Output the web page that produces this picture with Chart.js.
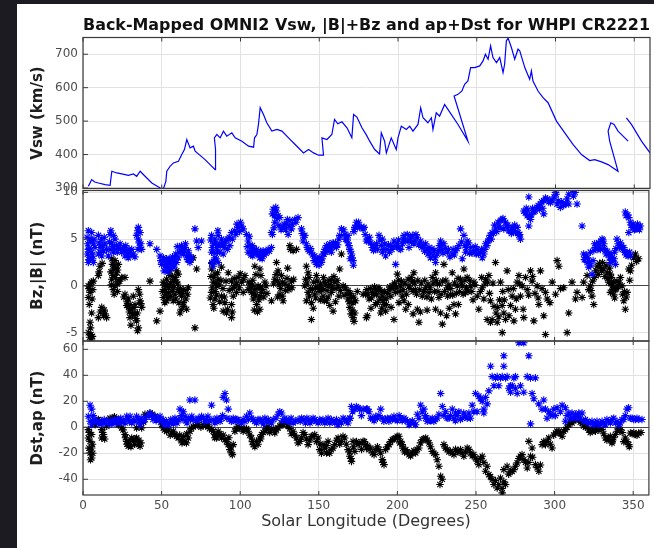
<!DOCTYPE html>
<html lang="en">
<head>
  <meta charset="UTF-8" />
  <title>Back-Mapped OMNI2 Vsw, |B|+Bz and ap+Dst for WHPI CR2221</title>
  <script src="https://cdn.jsdelivr.net/npm/chart.js"></script>
  <style>
    html, body { margin: 0; padding: 0; }
    body {
      width: 654px; height: 548px;
      position: relative; overflow: hidden;
      background: #1d1b22;
      font-family: 'DejaVu Sans', sans-serif;
    }
    .sheet { position: absolute; left: 17px; top: 4px; right: 0; bottom: 0; background: #fff; }
    canvas { position: absolute; left: 0; top: 0; }
  </style>
</head>
<body>
  <div class="sheet"></div>
  <canvas id="vswChart" width="654" height="548"></canvas>
  <canvas id="bChart" width="654" height="548"></canvas>
  <canvas id="dstChart" width="654" height="548"></canvas>

  <script>
    const chartTitle = 'Back-Mapped OMNI2 Vsw, |B|+Bz and ap+Dst for WHPI CR2221';

    // tick labels
    const lonTicks = [0, 50, 100, 150, 200, 250, 300, 350];
    const vswTicks = [300, 400, 500, 600, 700];
    const bTicks = [-5, 0, 5, 10];
    const dstTicks = [-40, -20, 0, 20, 40, 60];

    // solar wind speed, in the order it was plotted (back-mapping folds it back on itself)
    const vswLon = [3.4, 5.5, 7.5, 9.8, 14.0, 17.2, 18.3, 21.4, 24.6, 28.8, 32.0, 34.1, 36.3, 39.4, 43.7, 49.0, 51.1,
      52.6, 53.2, 55.3, 57.4, 60.6, 62.7, 64.4, 65.9, 68.0, 70.1, 71.2, 77.5, 83.9, 84.3, 84.0, 83.4, 85.0, 87.1,
      89.2, 91.3, 94.5, 96.6, 100.9, 105.1, 108.3, 108.9, 110.4, 111.4, 112.5, 114.6, 116.7, 119.9, 123.1, 126.3,
      130.5, 134.7, 140.0, 143.2, 146.4, 149.6, 152.7, 151.7, 154.9, 158.0, 159.7, 161.8, 164.4, 167.6, 170.7,
      171.8, 173.9, 177.1, 180.0, 182.0, 185.2, 188.3, 189.4, 191.5, 192.6, 195.7, 198.9, 200.0, 202.1, 205.3,
      207.4, 209.5, 212.7, 214.4, 215.9, 219.0, 221.2, 222.2, 224.3, 226.4, 229.6, 231.7, 238.1, 244.4, 235.6,
      238.1, 240.6, 242.3, 244.4, 246.1, 248.7, 251.9, 254.0, 255.5, 257.2, 258.8, 260.3, 262.5, 264.6, 266.7,
      267.7, 268.8, 269.9, 272.0, 274.1, 276.2, 277.3, 280.5, 283.6, 284.7, 285.7, 288.9, 292.1, 295.3, 300.6,
      305.9, 311.2, 316.5, 321.7, 324.9, 329.2, 333.4, 336.6, 339.7, 334.4, 333.4, 335.1, 337.2, 339.7, 342.9,
      346.1, 345.0, 345.0, 348.2, 354.6, 360.0];
    const vswVal = [305, 325, 318, 315, 310, 308, 350, 345, 342, 338, 342, 335, 350, 335, 315, 300, 298,
      320, 350, 365, 375, 380, 400, 415, 445, 420, 425, 410, 385, 355, 380, 415, 450, 460, 450,
      470, 455, 465, 450, 440, 425, 422, 450, 460, 490, 540, 520, 495, 470, 475, 470,
      450, 430, 405, 415, 405, 398, 398, 450, 445, 460, 505, 492, 498, 480, 450,
      520, 512, 480, 458, 440, 415, 402, 465, 440, 405, 450, 415, 450, 485, 475,
      485, 470, 490, 540, 510, 495, 510, 475, 525, 515, 550, 535, 490, 440, 575,
      580, 590, 610, 620, 660, 660, 665, 680, 700, 685, 725, 690, 675, 690, 645,
      670, 740, 748, 720, 685, 715, 710, 660, 625, 650, 620, 590, 570, 555, 500,
      465, 430, 400, 382, 385, 378, 370, 360, 350, 440, 470, 495, 490, 470, 455,
      440, null, 510, 490, 440, 405];

    // |B| (nT) [longitude, value]
    const bmagPts = [
      [3.4, 5.9], [5.5, 5.7], [4.5, 5.0], [3.0, 4.5], [6.6, 4.5], [3.4, 3.9], [5.5, 3.6], [7.7, 4.1], [4.5, 3.0], [6.6, 2.5], [3.4, 2.5],
      [2.6, 5.2], [4.0, 4.0], [6.0, 3.3], [2.8, 3.4], [7.0, 5.0], [5.0, 4.8], [6.2, 2.9], [3.8, 2.8],
      [9.8, 5.4], [11.9, 5.0], [10.8, 4.1], [13.0, 3.75], [9.8, 3.4], [14.0, 4.5], [11.9, 3.2],
      [10.3, 4.6], [12.5, 4.3], [13.5, 5.2], [11.0, 3.6], [15.0, 3.9],
      [17.2, 5.5], [19.3, 5.4], [18.3, 4.6], [20.4, 5.0], [21.4, 4.3], [17.2, 3.9], [19.3, 3.6], [16.1, 3.2],
      [16.8, 4.7], [18.8, 4.2], [20.0, 3.9], [21.8, 3.6], [17.7, 5.9], [22.3, 4.0],
      [23.6, 4.5], [25.7, 4.1], [27.8, 3.75], [29.9, 3.6], [32.0, 3.4], [26.7, 3.2], [24.6, 3.6], [31.0, 3.9], [28.8, 3.0],
      [24.0, 4.0], [26.0, 3.8], [28.0, 3.4], [30.5, 3.3], [33.0, 3.1], [27.2, 4.3], [29.2, 3.9],
      [35.2, 6.25], [36.3, 5.7], [34.1, 5.4], [35.2, 5.0], [36.3, 4.1], [37.3, 3.9], [42.6, 4.5], [46.9, 3.9],
      [34.8, 5.9], [35.8, 4.6], [36.8, 4.5], [35.0, 3.9],
      [49.0, 3.2], [51.1, 3.0], [53.2, 2.9], [50.0, 2.3], [52.1, 2.1], [54.3, 2.5], [56.4, 2.7], [58.5, 3.0], [57.4, 2.3],
      [55.3, 2.0], [53.2, 1.8], [59.6, 2.5], [60.6, 3.0],
      [49.5, 2.7], [50.8, 2.6], [52.6, 2.5], [53.8, 2.1], [54.8, 2.9], [55.8, 2.4], [56.9, 3.1], [58.0, 2.6], [51.6, 1.6],
      [54.0, 1.5], [56.0, 1.9], [57.8, 2.0], [59.0, 3.4], [61.2, 3.6], [60.0, 4.2],
      [62.7, 4.3], [64.9, 4.1], [63.8, 3.4], [65.9, 3.2], [68.0, 2.5], [69.1, 3.0], [67.0, 3.75],
      [63.2, 3.9], [64.4, 3.7], [66.5, 2.8], [68.5, 2.8], [67.6, 3.3], [65.2, 4.5], [62.2, 3.7],
      [71.2, 6.1], [72.3, 4.8], [75.4, 4.8], [73.3, 4.1],
      [81.8, 5.4], [83.9, 5.0], [86.0, 5.4], [82.8, 4.5], [85.0, 4.1], [81.8, 3.6], [83.9, 3.0], [86.0, 2.5], [82.8, 2.1], [88.1, 5.0], [87.1, 3.6],
      [81.2, 4.9], [82.3, 4.1], [83.3, 3.6], [84.4, 4.6], [85.5, 3.6], [86.5, 4.4], [83.0, 2.6], [84.8, 2.9], [82.0, 2.5], [87.6, 4.3], [85.8, 5.9],
      [90.3, 4.5], [92.4, 5.0], [94.5, 5.7], [96.6, 5.9], [98.7, 6.25], [100.9, 6.4], [101.9, 6.1], [93.4, 4.3], [89.2, 3.4],
      [89.8, 4.1], [91.0, 4.9], [93.0, 5.2], [95.0, 5.0], [97.2, 5.5], [99.5, 5.8], [91.8, 3.9], [88.6, 4.6], [97.9, 6.6], [100.2, 6.8],
      [105.1, 4.8], [106.1, 4.3], [107.2, 3.75], [109.3, 3.6], [111.4, 3.4], [113.6, 3.2], [114.6, 3.75], [115.7, 3.6],
      [117.8, 3.9], [119.9, 4.1], [112.5, 3.0], [110.4, 3.9], [105.1, 3.6],
      [104.5, 4.2], [105.8, 5.3], [106.8, 3.3], [108.0, 3.2], [108.7, 4.0], [110.9, 3.5], [112.0, 3.4], [113.0, 3.7],
      [114.0, 2.9], [115.2, 3.3], [116.5, 3.5], [118.5, 3.7], [107.7, 4.3], [104.0, 5.5],
      [121.0, 8.2], [123.1, 8.0], [124.1, 7.5], [122.0, 6.8], [119.9, 5.7], [125.2, 7.3],
      [120.5, 7.7], [121.8, 7.5], [122.6, 8.4], [123.6, 7.2], [124.6, 6.5], [126.0, 6.0], [128.0, 6.6], [129.0, 6.0],
      [130.0, 7.1], [131.0, 6.4], [133.2, 6.6], [135.5, 6.8], [121.5, 6.2], [120.5, 5.5],
      [127.3, 6.25], [129.4, 6.6], [131.6, 7.0], [132.6, 6.1], [130.5, 5.5], [134.7, 7.1], [136.8, 7.3],
      [139.0, 6.1], [141.1, 5.4], [140.0, 4.8], [142.1, 4.5], [143.2, 3.9],
      [145.3, 3.6], [147.4, 3.2], [149.6, 2.9], [151.7, 2.5], [150.6, 3.0], [152.7, 3.4], [153.8, 3.9], [148.5, 2.3],
      [154.9, 4.3], [157.0, 4.5], [159.1, 4.6], [161.2, 4.1], [163.3, 5.4], [164.4, 6.1], [158.0, 3.6],
      [139.5, 5.6], [140.5, 5.2], [142.7, 4.1], [144.0, 3.7], [144.8, 4.0], [146.0, 3.3], [147.0, 2.7], [148.0, 2.9],
      [149.0, 2.5], [150.2, 2.2], [151.2, 2.8], [152.2, 2.9], [153.3, 3.4], [154.3, 3.6], [155.5, 4.0], [156.3, 4.1],
      [157.6, 4.2], [158.6, 4.2], [159.8, 4.3], [160.7, 4.6], [162.0, 4.4], [162.8, 5.0], [156.5, 3.8],
      [166.5, 5.5], [168.6, 4.6], [169.7, 3.9], [170.8, 3.4], [171.8, 2.7], [172.9, 6.25], [173.9, 6.8], [176.0, 6.25],
      [178.2, 6.1], [180.3, 4.8], [168.6, 5.4],
      [165.9, 6.0], [167.0, 5.0], [167.9, 5.0], [169.2, 4.3], [170.2, 3.7], [171.2, 3.0], [172.3, 5.8], [173.3, 6.2],
      [174.5, 6.4], [175.3, 6.8], [177.0, 6.3], [179.5, 5.5], [170.0, 2.9], [172.0, 2.2],
      [178.8, 6.25], [180.9, 5.0], [183.0, 4.6], [185.1, 4.3], [188.3, 5.4], [190.4, 5.0], [187.2, 3.9], [190.4, 3.6],
      [192.5, 3.2], [195.7, 4.3], [197.8, 4.8], [200.0, 4.5], [202.1, 3.9], [198.9, 2.3],
      [204.2, 5.4], [206.3, 5.5], [209.5, 5.4], [212.7, 5.2], [214.8, 4.8], [210.5, 4.5], [207.4, 4.1],
      [218.0, 4.5], [220.1, 4.1], [223.3, 3.75], [225.4, 3.4], [221.1, 3.0], [224.3, 2.5],
      [227.5, 4.8], [229.6, 4.5], [228.6, 3.9], [231.7, 3.6], [234.9, 3.4], [237.0, 3.75], [239.1, 4.3],
      [240.2, 6.1], [242.3, 5.4], [244.4, 4.8], [243.4, 3.6], [241.3, 2.9], [246.6, 4.1], [248.7, 3.75], [250.8, 3.9],
      [252.9, 3.6], [255.0, 3.4], [254.0, 3.0],
      [181.5, 4.8], [182.3, 5.2], [184.0, 4.1], [184.8, 3.8], [186.0, 3.9], [186.8, 4.5], [188.8, 4.9], [189.8, 4.3],
      [191.3, 3.9], [192.0, 4.5], [193.4, 3.9], [194.3, 4.4], [195.0, 3.6], [196.5, 3.9], [197.2, 4.2], [199.4, 4.2],
      [200.8, 4.9], [201.3, 4.0], [203.2, 4.5], [203.8, 5.0], [205.0, 4.8], [206.8, 4.8], [208.2, 5.1], [209.0, 4.7],
      [211.3, 4.9], [211.8, 5.5], [213.5, 4.4], [215.5, 4.1], [216.5, 4.3], [217.3, 3.7], [218.8, 3.9], [219.5, 3.4],
      [220.7, 3.6], [222.0, 4.0], [222.6, 3.3], [224.0, 3.0], [226.0, 3.8], [226.8, 4.3], [228.0, 4.5], [229.0, 3.5],
      [230.5, 4.0], [232.5, 3.9], [233.4, 3.1], [235.5, 3.9], [236.2, 3.3], [238.0, 4.0], [240.8, 4.7], [243.0, 4.3],
      [244.0, 4.1], [245.3, 4.6], [245.8, 3.5], [247.5, 3.5], [249.5, 4.2], [250.2, 3.4], [251.5, 3.4], [253.5, 3.9],
      [256.1, 4.5], [258.2, 5.0], [260.3, 5.7], [262.4, 6.1], [264.5, 6.4], [266.7, 7.1], [268.8, 6.8], [267.7, 6.1],
      [270.9, 5.9], [273.0, 6.25], [275.1, 5.7], [277.3, 5.4], [276.2, 6.25], [278.3, 5.0],
      [255.6, 3.9], [257.0, 4.3], [257.8, 4.8], [259.0, 5.4], [259.7, 5.0], [261.0, 5.6], [261.8, 6.5], [263.2, 5.8],
      [264.0, 6.8], [265.3, 6.2], [265.8, 7.0], [267.2, 7.2], [269.5, 6.4], [270.2, 6.5], [271.8, 5.9], [272.5, 5.6],
      [274.0, 5.9], [274.6, 6.5], [276.8, 5.7], [277.8, 5.5],
      [280.4, 8.0], [282.6, 7.5], [284.7, 7.1], [283.6, 6.4], [286.8, 7.9], [288.9, 8.4], [291.0, 8.75], [293.1, 9.1],
      [295.3, 9.3], [293.1, 7.7], [297.4, 8.9], [301.6, 8.75], [303.7, 8.4], [305.8, 8.6], [309.0, 8.75], [314.3, 8.75],
      [300.6, 10.0], [311.1, 10.2], [309.0, 9.8], [283.6, 9.5],
      [281.4, 7.8], [282.0, 8.3], [283.0, 8.1], [284.0, 7.4], [285.3, 7.6], [286.0, 8.3], [287.6, 8.0], [289.6, 8.6],
      [290.5, 8.2], [291.8, 9.0], [292.5, 8.3], [294.2, 9.4], [296.3, 9.0], [298.4, 9.2], [299.7, 9.5], [301.0, 9.8],
      [302.3, 9.1], [304.5, 9.0], [307.0, 8.8], [308.0, 9.3], [312.0, 9.6], [313.0, 10.0],
      [317.5, 6.4], [318.5, 3.4], [319.6, 3.0], [320.7, 2.5], [321.7, 2.0], [323.8, 1.25], [322.8, 3.6], [326.0, 4.1],
      [328.1, 4.6], [330.2, 5.0], [331.3, 4.5], [329.1, 3.9], [332.3, 3.75], [334.4, 3.4], [336.6, 3.0], [335.5, 2.5], [338.7, 2.3],
      [319.0, 2.8], [320.2, 3.3], [321.0, 3.0], [322.2, 2.6], [323.0, 2.2], [324.5, 2.7], [325.0, 3.8], [325.5, 4.5],
      [326.8, 4.4], [327.5, 3.9], [328.6, 4.3], [329.6, 4.8], [330.8, 4.9], [331.8, 4.0], [332.8, 3.4], [333.6, 3.7],
      [334.9, 3.0], [336.0, 3.4], [337.0, 2.6], [337.9, 2.9], [338.2, 3.6], [339.0, 4.0], [340.4, 4.5], [341.2, 4.1],
      [342.5, 4.3], [343.2, 3.9], [344.6, 3.6], [345.5, 3.3], [346.8, 3.2], [347.7, 3.6],
      [339.7, 5.0], [341.9, 4.6], [344.0, 4.1], [346.1, 3.6], [348.2, 3.2], [345.0, 7.9], [347.2, 7.3], [348.2, 6.8],
      [349.3, 6.25], [351.4, 6.1], [353.5, 6.4], [347.2, 5.7], [354.6, 6.4],
      [345.5, 7.5], [346.5, 7.6], [348.8, 6.5], [350.0, 6.6], [350.8, 6.0], [352.2, 6.2], [352.8, 6.6], [354.0, 6.0]
    ];

    // Bz (nT) [longitude, value]
    const bzPts = [
      [3.4, 0], [5.5, 0.4], [4.5, -0.7], [3.4, -1.25], [5.5, -2.9], [4.5, -3.9], [5.1, -5.2], [6.0, -5.4], [3.4, -5.0], [6.6, 0.5],
      [3.8, -0.3], [5.0, 0.2], [6.2, -0.4], [4.0, -2.0], [5.8, -1.4], [4.8, -4.5], [5.4, -5.8], [4.2, -5.5],
      [10.8, 2.1], [9.8, 1.1], [11.9, -2.3], [13.0, -3.2], [9.8, -3.4], [14.0, -3.0],
      [10.2, 1.5], [12.2, 2.4], [11.0, -2.8], [13.5, -2.6], [15.0, -3.4],
      [18.3, 2.9], [20.4, 2.7], [22.5, 2.3], [19.3, 1.8], [21.4, 1.4], [18.3, 0.7], [20.4, 0], [22.5, 0.5], [19.3, -0.4],
      [18.8, 2.3], [19.8, 2.2], [21.0, 1.9], [22.0, 1.7], [17.8, 1.5], [19.0, 1.1], [20.6, 0.9], [21.8, 0.2], [23.3, 0.5],
      [18.0, 0.1], [19.8, -0.9], [22.0, -0.6],
      [24.6, 0.9], [26.7, 0.9], [26.7, -0.9], [28.8, -1.4], [27.8, -2.1], [31.0, -2.5], [33.1, -3.0], [29.9, -3.4],
      [34.1, -3.75], [35.2, -4.5], [36.3, -1.6], [32.0, -1.1], [35.2, -0.4], [33.1, -2.0], [37.3, -2.3],
      [26.0, -1.2], [28.0, -1.7], [29.0, -2.3], [30.0, -2.0], [31.5, -3.0], [32.5, -2.3], [33.6, -3.5], [34.6, -2.9],
      [30.5, -4.2], [29.5, -2.8], [34.7, -4.8], [36.0, -0.9], [36.8, -1.9],
      [42.6, 0.5], [46.9, -3.75], [49.0, -2.7],
      [51.1, 0.4], [53.2, 0.7], [55.3, 1.1], [57.4, 0.5], [59.6, 0.4], [60.6, 1.25], [52.1, -0.4], [54.3, -0.7], [56.4, 0],
      [58.5, -0.9], [51.1, -1.25], [53.2, -1.6], [57.4, -1.6], [60.6, -0.4], [62.7, -1.1], [64.9, -0.5], [67.0, -0.2],
      [63.8, -1.8], [61.7, -2.9], [65.9, -2.5], [59.6, 1.6], [70.1, 3.0], [72.3, 1.8], [71.2, -4.5],
      [50.5, -0.6], [51.6, 0.1], [52.6, -0.9], [53.6, 0.1], [54.6, -0.2], [55.8, 0.3], [56.8, -0.6], [57.9, -0.2],
      [58.9, 0.9], [60.1, 0.2], [61.2, -0.7], [62.0, -0.3], [63.0, -0.8], [63.8, -0.4], [65.5, -1.4], [66.5, -0.9],
      [52.0, -1.8], [54.0, -1.3], [55.8, -1.1], [59.0, -1.4], [61.0, -1.8], [64.0, -2.2], [62.5, -2.5], [57.0, 1.0], [55.0, 1.6],
      [81.8, 1.8], [83.9, 1.25], [82.8, 0.4], [85.0, 0], [81.8, -0.7], [83.9, -1.4], [82.8, -2.0], [86.0, 0.7], [88.1, -1.1],
      [90.3, -1.8], [91.3, -2.9], [89.2, -2.7], [94.5, -3.4], [88.1, 2.0],
      [92.4, 1.4], [94.5, 0.5], [96.6, 0], [98.7, 0.9], [100.9, 0.4], [103.0, 1.1], [95.6, -1.1], [94.5, -2.0], [101.9, -0.7], [97.7, -0.7],
      [81.3, 1.0], [82.0, 2.4], [83.2, 0.9], [84.5, 0.3], [85.6, 1.4], [82.2, -0.2], [84.2, -0.6], [81.0, -1.3], [83.2, -2.4],
      [85.0, -1.0], [87.0, -1.7], [86.6, 0.1], [87.8, 0.6], [89.0, -0.3], [90.0, -1.2], [91.0, 0.5], [93.0, -0.5], [95.0, -0.3],
      [96.2, 0.8], [97.8, 0.3], [99.4, -0.2], [100.0, 1.3], [102.2, 0.7], [92.0, -2.5], [95.0, -2.8],
      [105.1, -0.4], [107.2, -0.7], [109.3, -0.4], [111.4, 0], [113.6, -0.7], [108.3, -1.4], [110.4, -2.0], [112.5, -1.1],
      [106.1, 0.2], [115.7, 0.4], [112.5, 1.8], [109.3, 2.1], [112.5, -2.5],
      [105.6, 0.4], [106.7, -0.2], [107.8, 0.1], [108.8, -0.9], [109.8, -1.0], [110.8, -0.3], [111.9, -1.5], [113.0, -0.1],
      [114.2, -0.4], [115.0, -1.2], [116.4, 0.0], [108.0, 0.6], [110.0, 1.2], [113.2, 1.1], [117.0, -0.8], [109.0, -2.6], [111.0, -2.8],
      [119.9, -1.6], [123.1, 2.5], [124.1, 1.6], [122.0, 0.7], [126.3, 1.1], [128.4, 0.2], [125.2, -0.9], [127.3, -1.6],
      [130.5, 0], [132.6, 0.5], [131.6, 4.3], [133.7, 3.75], [135.8, 3.9],
      [121.2, 0.2], [122.8, 1.2], [123.8, 0.5], [124.8, 0.1], [125.8, -0.3], [127.0, 0.4], [128.8, -0.5], [129.8, 0.8],
      [131.0, -0.4], [133.0, -0.2], [134.0, 0.7], [132.0, 3.9], [130.2, 1.9], [126.8, -1.1], [123.8, -1.2],
      [142.1, 2.1], [143.2, 1.4], [141.1, 0], [143.2, -0.7], [142.1, -1.6], [145.3, -1.8], [145.3, -3.6],
      [148.5, 1.1], [149.6, -0.2], [147.4, -0.9], [151.7, -0.4], [153.8, 0.4], [155.9, 0], [158.0, 0.7], [160.2, 0.4],
      [152.7, -1.1], [154.9, -1.6], [157.0, -2.1], [159.1, -2.7], [163.3, 1.8], [164.4, 3.4], [162.3, 0], [165.5, 0], [158.0, -0.7],
      [141.6, 0.7], [142.6, 0.3], [143.8, 0.9], [144.6, -0.3], [146.0, -0.4], [146.8, 0.4], [148.0, -0.2], [149.0, 0.5],
      [150.2, -0.6], [151.0, 0.2], [152.2, -0.3], [153.0, 0.9], [154.3, 0.2], [155.2, -0.5], [156.5, 0.6], [157.3, 0.1],
      [158.6, -0.2], [159.6, 1.0], [161.0, -0.3], [161.7, 0.6], [162.8, -1.1], [156.0, -1.2], [153.5, -1.6], [151.0, -1.5],
      [148.0, -1.3], [144.0, -1.1], [146.5, -2.4], [160.6, -1.7], [163.8, -0.5], [166.0, -1.0],
      [168.6, -0.5], [170.8, -1.25], [171.8, -1.8], [169.7, -2.3], [172.9, -2.9], [171.8, -3.4], [168.6, -1.4],
      [167.0, -0.2], [168.0, -0.9], [169.2, -1.7], [170.2, -0.8], [171.3, -2.6], [172.2, -1.2], [173.4, -1.6], [170.5, -3.0],
      [172.4, -3.8], [174.5, -0.6], [178.2, -0.9], [180.3, -3.4],
      [179.8, -0.9], [182.0, -1.4], [180.9, -3.2], [184.1, -0.7], [186.2, -0.4], [188.3, -0.2], [187.2, -1.8], [190.4, -1.1],
      [191.5, -2.0], [192.5, -2.7], [189.4, -2.9], [194.7, -0.4], [196.8, 0], [198.9, -0.7], [197.8, -3.6],
      [180.5, -0.4], [181.3, -0.9], [183.0, -0.3], [183.5, -1.3], [185.0, -0.9], [185.5, -0.1], [186.8, -0.9], [187.8, -0.5],
      [188.9, -1.4], [189.8, -0.6], [190.9, -1.6], [191.9, -0.6], [192.9, -1.4], [193.8, -0.8], [195.2, -0.1], [195.8, -1.1],
      [197.2, -0.3], [198.2, 0.3], [199.5, -0.1], [196.0, -2.3], [193.0, -2.0], [190.0, -2.4], [186.0, -2.0], [183.2, -2.4],
      [200.0, 1.25], [202.1, 0], [203.1, -1.1], [204.2, -1.6], [201.0, -1.8], [205.3, -2.5], [207.4, 0], [209.5, 0.5],
      [210.5, 1.4], [211.6, -0.4], [212.7, -2.5], [213.7, -3.9], [215.8, -1.1], [218.0, -0.2], [220.1, -0.7],
      [222.2, 0.9], [224.3, 1.4], [225.4, 0.2], [226.4, -1.25], [227.5, -2.9], [224.3, -2.5], [228.6, -4.1], [229.6, 2.3],
      [231.7, -0.2], [233.8, -0.9], [236.0, -2.0], [237.0, -3.0], [234.9, 1.4], [238.1, 0], [240.2, 0.7], [242.3, 1.8],
      [243.4, -0.7], [241.3, 0], [244.4, 0.9], [246.6, 0], [248.7, 0.4], [250.8, -1.1], [251.8, -2.5], [254.0, -0.2],
      [200.6, 0.6], [201.6, -0.6], [202.6, 0.5], [203.7, -0.4], [204.8, 0.3], [205.8, -0.9], [206.8, 0.7], [208.0, -0.3],
      [208.8, 0.9], [210.0, -0.6], [211.0, 0.3], [212.2, -0.9], [213.0, 0.6], [214.2, -0.4], [215.2, 0.3], [216.6, -0.6],
      [217.4, 0.6], [218.8, -1.2], [219.5, 0.2], [220.8, -0.2], [221.6, -1.4], [222.8, 0.3], [223.6, -0.6], [224.8, 0.6],
      [225.8, -0.6], [226.8, 0.2], [227.9, -0.9], [228.8, 0.5], [230.0, -0.6], [230.8, 0.6], [232.0, -1.1], [232.8, 0.1],
      [234.0, -0.3], [235.2, -1.0], [236.4, 0.3], [237.5, -0.8], [238.6, 0.8], [239.5, -0.6], [240.8, 0.2], [241.8, -0.9],
      [242.9, 0.6], [243.9, -0.2], [245.0, -0.6], [246.0, 0.6], [247.3, -0.6], [248.1, -1.5], [249.3, 0.1], [207.0, -2.0],
      [210.0, -3.0], [214.6, -2.8], [233.0, -2.4], [238.8, -2.0], [231.3, -3.2], [218.9, -2.6],
      [256.1, 0.7], [258.2, 1.1], [255.0, -1.4], [259.2, -1.6], [260.3, -3.6], [262.4, 2.5], [263.5, -3.9],
      [265.6, 0.4], [266.7, -2.1], [267.7, -2.9], [268.8, -3.6], [269.8, 1.6], [272.0, -2.1], [273.0, -1.1], [274.1, -3.75],
      [275.1, -2.5], [276.2, 0.4], [277.3, 1.1], [278.3, -1.1], [279.4, 0], [280.4, -3.4], [282.6, -0.4], [284.7, 1.6],
      [285.7, 0.5], [286.8, -3.75], [288.9, 0], [290.0, -2.0], [291.0, 1.6], [293.1, -3.2], [294.2, -0.7], [295.3, -1.4],
      [252.8, -0.6], [253.6, 0.9], [255.7, 0.2], [257.3, 0.4], [258.6, -0.8], [260.8, 0.3], [261.5, -2.2], [262.8, -2.9],
      [263.8, -2.3], [264.5, -3.3], [265.0, -1.5], [267.0, -0.6], [268.0, -1.5], [270.5, -0.4], [271.0, -3.2], [273.8, -0.3],
      [275.7, -1.4], [277.8, 0.2], [280.0, -2.5], [281.5, 0.9], [283.5, -1.0], [286.0, 1.0], [287.5, -0.8], [289.5, -1.3],
      [292.0, -0.3], [297.0, -1.8], [298.5, 0.4], [303.8, -0.3],
      [301.6, 2.7], [302.7, 2.1], [300.6, -0.9], [305.8, -0.2], [309.0, -2.9], [308.0, -5.0], [311.1, 0.4], [313.3, -1.4],
      [314.3, -0.7], [317.5, -1.25], [318.5, 0.4], [320.7, 1.1], [321.7, -0.4], [322.8, 0], [323.8, -1.1], [324.9, -2.0],
      [327.0, 2.1], [329.1, 2.0], [331.3, 1.8], [333.4, 1.4], [335.5, 1.25], [334.4, 0.4], [336.6, 0], [338.7, -0.4],
      [335.5, -0.7], [337.6, -0.9], [339.7, 0.5], [341.9, 0.9], [342.9, 0], [344.0, -1.6], [345.0, -2.5], [346.1, -0.7],
      [348.2, 1.6], [350.3, 3.0], [351.4, 3.4], [353.5, 2.9], [347.2, 1.8], [266.7, -5.0], [294.2, -5.2], [257.1, -3.6], [259.2, -3.9],
      [323.2, -0.5], [324.2, 0.5], [325.3, 0.9], [326.2, 1.6], [327.8, 1.2], [328.6, 2.4], [329.8, 1.6], [330.5, 2.5],
      [332.0, 1.0], [332.8, 2.2], [333.8, 0.8], [334.9, 1.9], [335.9, 0.3], [336.2, 0.9], [337.0, -0.4], [337.9, 0.4],
      [338.2, -1.3], [339.2, -0.3], [340.4, -0.1], [341.2, 0.3], [343.2, -0.9], [344.5, -0.6], [345.6, -1.2], [347.8, 0.6],
      [349.0, 2.2], [352.2, 2.6]
    ];

    // ap [longitude, value]
    const apPts = [
      [4.5, 17], [5.5, 14], [3.4, 8.5], [4.5, 4.6], [5.5, 2], [7.7, 6], [9.8, 3.3], [11.9, 4.6], [14.0, 3.3], [16.1, 4.6],
      [18.3, 2.6], [20.4, 3.3], [22.5, 6], [24.6, 4.6], [27.8, 8.5], [28.8, 6], [31.0, 3.3], [34.1, 8.5], [35.2, 6],
      [36.3, 2], [38.4, 4.6], [42.6, 11], [45.8, 8.5], [49.0, 8.5], [51.1, 6], [52.1, 3.3], [54.3, 2], [56.4, 4.6],
      [58.5, 7], [60.6, 6], [61.7, 14], [63.8, 12], [64.9, 8.5], [67.0, 7], [68.0, 21], [71.2, 21], [70.1, 6], [73.3, 7],
      [75.4, 8.5], [78.6, 6], [81.8, 17], [82.8, 6], [83.9, 3.3], [86.0, 6], [88.1, 7], [89.2, 23], [90.3, 26], [91.3, 21],
      [92.4, 14], [93.4, 6], [95.6, 7], [97.7, 6], [99.8, 4.6], [101.9, 6], [104.0, 8.5], [106.1, 11], [107.2, 7],
      [109.3, 4.6], [111.4, 6], [113.6, 4.6], [115.7, 7], [118.9, 4.6], [121.0, 6], [124.1, 10], [126.3, 11], [128.4, 7],
      [130.5, 4.6], [133.7, 3.3], [136.8, 6], [140.0, 6], [143.2, 6], [145.3, 4.6], [147.4, 6], [149.6, 3.3], [152.7, 6],
      [154.9, 4.6], [158.0, 6], [160.2, 3.3], [163.3, 4.6], [166.5, 6], [169.7, 7], [170.8, 16], [172.9, 14], [175.0, 15],
      [178.2, 14], [180.3, 14],
      [6.5, 9], [6.0, 5], [8.8, 4.6], [10.8, 2.6], [12.8, 3.3], [13.5, 6], [15.0, 4.6], [17.0, 2.6], [17.6, 5], [19.0, 4.6],
      [20.0, 6], [21.8, 4.6], [23.2, 3.3], [24.0, 7], [25.6, 5], [26.8, 3.3], [29.5, 4.6], [30.0, 8.5], [32.2, 6], [33.0, 4.6],
      [35.8, 4.6], [37.0, 7], [39.5, 6], [40.6, 8.5], [43.5, 9], [44.5, 6], [46.5, 5], [47.8, 7], [50.0, 4.6], [51.8, 2],
      [53.2, 4.6], [55.2, 3.3], [55.8, 6], [57.5, 2.6], [59.2, 4.6], [59.8, 3.3], [62.5, 9], [63.0, 6], [65.5, 5], [66.2, 3.3],
      [68.5, 6], [69.2, 8.5], [72.0, 5], [74.0, 6], [76.8, 7], [77.5, 4.6], [79.5, 8.5], [80.5, 5], [84.6, 4.6], [85.2, 7],
      [87.2, 4.6], [88.8, 9], [91.5, 7], [94.4, 4.6], [96.8, 4.6], [98.5, 6], [100.8, 3.3], [103.0, 4.6], [105.2, 6],
      [108.2, 6], [110.4, 3.3], [112.6, 6], [114.8, 2.6], [116.8, 4.6], [117.9, 6], [119.9, 3.3], [122.8, 7], [125.2, 12],
      [127.0, 5], [129.4, 6], [131.6, 4.6], [132.4, 7], [135.0, 4.6], [138.2, 4.6], [139.0, 7], [141.5, 3.3], [142.4, 7],
      [144.4, 3.3], [146.4, 7], [148.5, 4.6], [150.6, 6], [151.7, 4.6], [153.8, 3.3], [155.9, 7], [157.0, 3.3], [159.1, 4.6],
      [161.2, 6], [162.2, 2], [164.4, 3.3], [165.5, 7], [167.6, 4.6], [168.6, 3.3], [170.0, 7], [171.5, 12], [173.9, 16],
      [176.0, 14], [177.1, 9],
      [180.9, 14], [183.0, 7], [186.2, 8.5], [189.4, 14], [190.4, 7], [192.5, 6], [195.7, 7], [198.9, 6], [202.1, 7],
      [205.3, 6], [207.4, 2], [210.5, 3.3], [212.7, 10], [214.8, 17], [216.9, 14], [218.0, 7], [220.1, 6], [222.2, 7],
      [224.3, 6], [226.4, 10], [227.5, 26], [228.6, 16], [230.7, 12], [232.8, 7], [234.9, 14], [237.0, 11], [239.1, 12],
      [241.3, 7], [243.4, 8.5], [245.5, 11], [247.6, 17], [249.7, 26], [251.8, 24], [254.0, 20], [255.0, 11], [256.1, 23],
      [258.2, 28], [259.3, 47], [262.4, 38], [265.6, 38], [267.7, 47], [267.7, 55], [268.8, 38], [270.9, 30], [273.0, 32],
      [274.1, 38], [276.2, 26], [275.1, 30], [277.3, 65], [279.4, 66], [280.4, 65], [283.6, 55], [284.7, 38], [285.7, 26],
      [287.8, 38], [284.7, 2.6], [293.1, 21], [294.2, 14], [297.4, 10], [299.5, 14], [301.6, 15], [304.8, 17], [306.9, 15],
      [309.0, 11], [311.1, 11], [313.3, 10], [315.4, 11], [317.5, 11], [319.6, 6], [321.7, 3.3], [324.9, 2], [328.1, 2],
      [331.3, 3.3], [334.4, 4.6], [336.6, 6], [338.7, 3.3], [340.8, 2], [344.0, 6], [346.1, 14], [348.2, 7], [350.3, 6],
      [353.5, 6], [355.6, 6], [306.9, 4.6],
      [182.0, 12], [184.1, 7], [185.2, 5], [187.3, 7], [188.3, 9], [191.4, 4.6], [193.6, 7], [194.6, 4.6], [196.8, 6],
      [197.8, 8.5], [200.0, 5], [201.1, 9], [203.1, 5], [204.2, 7], [206.3, 4.6], [208.4, 3.3], [209.5, 5], [211.6, 2],
      [213.7, 7], [215.8, 12], [217.9, 9], [219.0, 4.6], [221.1, 5], [223.2, 4.6], [225.3, 7], [229.6, 9], [231.7, 7],
      [233.8, 9], [235.9, 7], [236.9, 5], [238.0, 9], [240.1, 6], [242.2, 11], [244.4, 7], [246.5, 7], [248.6, 12],
      [250.7, 12], [252.8, 22], [255.0, 14], [257.1, 18], [260.3, 39], [261.4, 32], [263.5, 39], [264.5, 32], [266.7, 39],
      [269.8, 39], [271.9, 32], [272.0, 27], [275.1, 39], [278.3, 32], [280.4, 27], [282.6, 39], [286.8, 22], [289.9, 18],
      [292.0, 14], [295.2, 7], [296.3, 12], [298.4, 9], [300.5, 9], [303.7, 12], [307.9, 9], [310.1, 7], [312.2, 7],
      [314.3, 7], [316.4, 7], [318.5, 4.6], [320.6, 4.6], [322.7, 3.3], [323.8, 4.6], [326.0, 3.3], [327.0, 4.6],
      [329.1, 2.6], [330.2, 4.6], [332.3, 2], [333.3, 6], [335.5, 3.3], [337.6, 7], [339.7, 4.6], [341.8, 3.3], [342.9, 6],
      [345.0, 9], [347.1, 15], [349.3, 7], [351.4, 6], [352.4, 7]
    ];

    // Dst (nT) [longitude, value]
    const dstPts = [
      [3.4, -1.8], [5.5, -5.6], [4.5, -10.8], [5.5, -15.9], [4.5, -19.7], [5.5, -23.6], [3.4, -8.2], [7.7, 2], [9.8, 6],
      [11.9, -1.8], [13.0, -5.6], [11.9, -8.2], [15.1, 0.8], [17.2, 7], [19.3, 7], [21.4, 6], [22.5, 2], [24.6, -0.5],
      [26.7, -5.6], [27.8, -10.8], [28.8, -14.6], [31.0, -8.2], [32.0, -10.8], [34.1, -8.2], [35.2, -13.3], [36.3, -14.6],
      [34.1, -0.5], [37.3, -0.5], [39.4, 10], [42.6, 11], [45.8, 8.5], [49.0, 6], [51.1, -0.5], [53.2, -3.1], [56.4, -4.4],
      [58.5, -5.6], [60.6, -8.2], [62.7, -9.5], [64.9, -10.8], [67.0, -8.2], [68.0, -3.1], [70.1, 0.8], [73.3, 2],
      [76.5, 2], [79.7, 2], [81.8, -1.8], [83.9, -5.6], [85.0, -8.2], [86.0, -3.1], [88.1, -8.2], [90.3, -9.5],
      [92.4, -13.3], [93.4, -17.2], [94.5, -19.7], [95.6, -13.3], [96.6, -3.1], [98.7, 0.8], [100.9, -0.5], [103.0, -1.8],
      [105.1, -3.1], [107.2, -8.2], [108.3, -13.3], [110.4, -10.8], [112.5, -8.2], [113.6, -5.6], [115.7, -3.1],
      [117.8, 0.8], [119.9, -1.8], [122.0, -4.4], [124.1, -0.5], [126.3, 3.3], [128.4, 4.6], [130.5, 0.8], [133.7, -3.1],
      [135.8, -8.2], [137.9, -10.8], [141.1, -5.6], [143.2, -13.3], [145.3, -6.9], [147.4, -5.6], [149.6, -8.2],
      [150.6, -17.2], [152.7, -13.3], [154.9, -19.7], [155.9, -10.8], [158.0, -17.2], [160.2, -13.3], [162.3, -8.2],
      [164.4, -10.8], [166.5, -8.2], [168.6, -17.2], [169.7, -22.3], [170.8, -26.2], [172.9, -18.5], [171.8, -10.8],
      [175.0, -13.3], [178.2, -10.8], [180.3, -15.9],
      [4.0, -4], [6.0, -13], [3.8, -16], [6.2, -20], [4.8, -25], [8.5, 4], [10.5, 5], [12.5, -4], [13.8, -9], [16.0, 5],
      [18.0, 6], [20.0, 8], [20.8, 5], [23.0, 3], [25.5, -2], [27.0, -8], [28.0, -13], [29.5, -11], [30.5, -15], [32.8, -13],
      [33.5, -9], [35.6, -10], [36.8, -12], [38.5, 4], [40.5, 9], [44.0, 10], [47.0, 7], [50.0, 2], [52.0, -2], [54.5, -2],
      [55.5, -6], [57.5, -3], [59.5, -7], [61.5, -6], [63.0, -12], [64.0, -7], [65.8, -12], [66.0, -5], [69.0, -1], [71.5, 1],
      [75.0, 0], [78.0, 1], [80.5, -1], [82.8, -3], [83.8, -8], [85.8, -6], [87.0, -5], [89.2, -6], [91.3, -11], [92.8, -8],
      [94.0, -15], [95.0, -21], [97.5, -1], [99.8, -1], [101.9, -3], [104.0, -1], [106.1, -6], [107.8, -11], [109.3, -15],
      [111.4, -13], [113.0, -9], [114.6, -4], [116.7, -1], [118.8, -4], [121.0, -1], [123.0, -2], [125.2, 1], [127.3, 2],
      [129.4, 3], [131.5, -1], [132.5, -5], [134.7, -6], [136.8, -12], [139.0, -8], [140.0, -4], [142.1, -9], [144.2, -10],
      [146.3, -7], [148.5, -11], [150.6, -13], [151.7, -20], [153.8, -16], [155.0, -14], [156.9, -20], [159.0, -16],
      [161.2, -10], [163.3, -13], [165.4, -7], [167.5, -13], [169.6, -19], [170.5, -24], [172.0, -15], [174.0, -11],
      [176.1, -12], [177.2, -17], [179.0, -11],
      [179.8, -13.3], [182.0, -17.2], [184.1, -19.7], [186.2, -17.2], [188.3, -17.2], [190.4, -24.9], [191.5, -28.7],
      [192.5, -17.2], [194.7, -13.3], [196.8, -9.5], [198.9, -8.2], [201.0, -6.9], [202.1, -10.8], [203.1, -13.3],
      [205.3, -17.2], [207.4, -21], [209.5, -19.7], [211.6, -19.7], [213.7, -15.9], [215.8, -9.5], [218.0, -8.2],
      [220.1, -12], [222.2, -18.5], [224.3, -21], [226.4, -30], [227.5, -37.7], [227.1, -44], [229.6, -13.3],
      [231.7, -17.2], [233.8, -18.5], [236.0, -21], [238.1, -18.5], [240.2, -17.2], [242.3, -22.3], [244.4, -15.9],
      [246.6, -19.7], [249.7, -23.6], [251.8, -28.7], [254.0, -22.3], [256.1, -33.8], [258.2, -36.4], [260.3, -40.3],
      [261.4, -44], [263.5, -46.7], [265.6, -39], [267.7, -32.6], [266.7, -50.5], [268.8, -44], [269.8, -30],
      [272.0, -33.8], [274.1, -32.6], [276.2, -27.4], [278.3, -22.3], [280.4, -24.9], [282.6, -31.3], [284.7, -22.3],
      [283.6, -10.8], [285.7, -15.9], [287.8, -28.7], [290.0, -33.8], [292.1, -13.3], [294.2, -13.3], [296.3, -8.2],
      [298.4, -15.9], [300.6, -4.4], [302.7, -3.1], [304.8, -6.9], [306.9, -1.8], [309.0, 2], [311.1, 3.3], [313.3, 6],
      [315.4, 6], [317.5, 3.3], [320.7, 2], [323.8, -3.1], [327.0, 0.8], [330.2, -1.8], [332.3, -8.2], [334.4, -8.2],
      [336.6, -10.8], [338.7, -5.6], [341.9, -1.8], [345.0, -8.2], [347.2, -13.3], [348.2, -4.4], [351.4, -5.6], [353.5, -4.4],
      [181.0, -14], [183.0, -16], [185.2, -21], [187.3, -15], [189.4, -20], [190.8, -27], [193.6, -15], [195.7, -11],
      [197.8, -9], [199.9, -7], [201.5, -12], [203.5, -16], [204.5, -19], [206.3, -19], [208.4, -22], [210.5, -18],
      [212.6, -17], [214.7, -12], [216.8, -9], [219.0, -10], [221.1, -15], [223.2, -20], [225.3, -25], [228.5, -40],
      [230.6, -16], [232.8, -19], [234.9, -20], [237.0, -17], [239.1, -19], [241.2, -20], [243.4, -19], [245.5, -17],
      [247.6, -22], [248.6, -21], [250.7, -26], [252.9, -24], [255.0, -27], [257.1, -30], [259.2, -38], [262.4, -41],
      [264.5, -44], [266.6, -47], [267.7, -42], [270.8, -36], [273.0, -34], [275.1, -30], [277.2, -24], [279.3, -21],
      [281.5, -27], [283.6, -27], [286.0, -23], [288.9, -31], [291.0, -29], [293.1, -11], [295.2, -11], [297.3, -13],
      [299.4, -6], [301.5, -3], [303.7, -5], [305.8, -3], [307.9, 0], [310.0, 4], [312.2, 5], [314.3, 8], [316.4, 4],
      [318.5, 1], [319.6, 0], [321.7, -2], [322.7, -4], [324.8, -1], [326.0, -3], [328.1, -2], [331.2, -5], [333.3, -10],
      [335.5, -7], [336.5, -12], [337.6, -8], [339.8, -3], [341.0, -1], [343.0, -4], [344.0, -11], [346.0, -11],
      [347.5, -15], [349.3, -5], [350.4, -4], [352.4, -6], [355.0, -4]
    ];

    Chart.defaults.font.family = "'DejaVu Sans', sans-serif";

    const toXY = pts => pts.map(p => ({ x: p[0], y: p[1] }));

    // MATLAB style box with inward tick marks
    const boxTicks = {
      id: 'boxTicks',
      afterDraw(chart) {
        const { ctx, chartArea: a, scales } = chart;
        ctx.save();
        ctx.strokeStyle = '#3a3a3a';
        ctx.lineWidth = 1.2;
        ctx.strokeRect(a.left, a.top, a.right - a.left, a.bottom - a.top);
        ctx.lineWidth = 1;
        ctx.beginPath();
        scales.x.ticks.forEach(t => {
          const px = scales.x.getPixelForValue(t.value);
          ctx.moveTo(px, a.bottom); ctx.lineTo(px, a.bottom - 4);
          ctx.moveTo(px, a.top); ctx.lineTo(px, a.top + 4);
        });
        scales.y.ticks.forEach(t => {
          const py = scales.y.getPixelForValue(t.value);
          ctx.moveTo(a.left, py); ctx.lineTo(a.left + 5, py);
        });
        ctx.stroke();
        ctx.restore();
      }
    };

    function starSet(pts, color) {
      return {
        data: toXY(pts),
        pointStyle: 'star',
        pointRadius: 3.8,
        pointBorderWidth: 1.1,
        borderColor: color,
        backgroundColor: color
      };
    }

    function panel(id, cfg) {
      return new Chart(document.getElementById(id), {
        type: 'scatter',
        data: { datasets: cfg.datasets },
        options: {
          responsive: false,
          animation: false,
          layout: { padding: { left: 0, right: 4, top: cfg.top, bottom: cfg.bottom } },
          plugins: {
            legend: { display: false },
            tooltip: { enabled: false },
            title: cfg.title || { display: false }
          },
          scales: {
            x: {
              type: 'linear', min: 0, max: 360,
              afterBuildTicks: s => { s.ticks = lonTicks.map(v => ({ value: v })); },
              afterFit: s => { s.height = cfg.xHeight; s.paddingLeft = 0; s.paddingRight = 0; },
              border: { display: false },
              grid: { color: '#e2e2e2', drawTicks: false },
              ticks: { display: cfg.showX, color: '#4d4d4d', font: { size: 12 }, padding: 4 },
              title: {
                display: cfg.showX, text: 'Solar Longitude (Degrees)',
                color: '#333333', font: { size: 16 }, padding: 17
              }
            },
            y: {
              type: 'linear', min: cfg.min, max: cfg.max,
              afterBuildTicks: s => { s.ticks = cfg.ticks.map(v => ({ value: v })); },
              afterFit: s => { s.width = 83; s.paddingTop = 0; s.paddingBottom = 0; },
              border: { display: false },
              grid: {
                drawTicks: false,
                color: c => (cfg.zeroLine && c.tick && c.tick.value === 0) ? '#444444' : '#e2e2e2'
              },
              ticks: { color: '#4d4d4d', font: { size: 12 }, padding: 5 },
              title: {
                display: true, text: cfg.yTitle, color: '#1e1e1e',
                font: { size: 15, weight: 'bold' }, padding: 29.5
              }
            }
          }
        },
        plugins: [boxTicks]
      });
    }

    panel('vswChart', {
      top: 14, bottom: 359.5, xHeight: 0, showX: false,
      min: 298.5, max: 750, ticks: vswTicks, yTitle: 'Vsw (km/s)',
      title: {
        display: true, text: chartTitle, fullSize: false, color: '#111111',
        font: { size: 16, weight: 'bold' }, padding: { top: 2.5, bottom: 1.8 }
      },
      datasets: [{
        data: vswLon.map((x, i) => ({ x, y: vswVal[i] })),
        showLine: true,
        spanGaps: false,
        borderColor: '#0000ff',
        borderWidth: 1.2,
        pointRadius: 0,
        tension: 0
      }]
    });

    panel('bChart', {
      top: 190.5, bottom: 207, xHeight: 0, showX: false, zeroLine: true,
      min: -5.9, max: 10.2, ticks: bTicks, yTitle: 'Bz,|B| (nT)',
      datasets: [starSet(bmagPts, '#0000ff'), starSet(bzPts, '#000000')]
    });

    panel('dstChart', {
      top: 341, bottom: 0, xHeight: 53, showX: true, zeroLine: true,
      min: -52.1, max: 66.4, ticks: dstTicks, yTitle: 'Dst,ap (nT)',
      datasets: [starSet(apPts, '#0000ff'), starSet(dstPts, '#000000')]
    });
  </script>
</body>
</html>
